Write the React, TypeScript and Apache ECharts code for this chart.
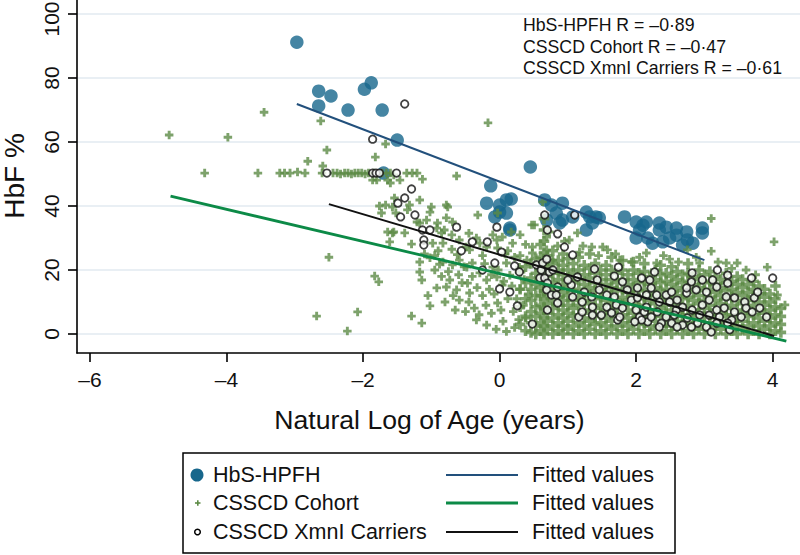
import React, { useEffect, useRef } from "react";
import * as echarts from "echarts";

const FONT = "'Liberation Sans', Arial, Helvetica, sans-serif";

const xTicks = [-6, -4, -2, 0, 2, 4];
const yTicks = [0, 20, 40, 60, 80, 100];
const X_MIN = -6.19;
const X_MAX = 4.4;
const Y_MIN = -5.94;
const Y_MAX = 104.4;

const xTitle = "Natural Log of Age (years)";
const yTitle = "HbF %";
const rLines = ["HbS-HPFH R = –0·89", "CSSCD Cohort R = –0·47", "CSSCD XmnI Carriers R = –0·61"];
const legendLeft = ["HbS-HPFH", "CSSCD Cohort", "CSSCD XmnI Carriers"];
const legendRight = ["Fitted values", "Fitted values", "Fitted values"];

const hbsHpfh: number[][] = [
  [-2.97, 91.2], [-2.65, 75.9], [-2.65, 71.3], [-2.47, 74.4], [-2.22, 70.0], [-1.98, 76.5],
  [-1.88, 78.5], [-1.72, 70.0], [-1.5, 60.6], [-1.7, 50.3], [-0.13, 46.3], [0.45, 52.2],
  [-0.19, 40.9], [0.0, 40.3], [0.1, 41.9], [0.17, 42.2], [0.0, 38.1], [0.1, 37.8], [-0.07, 36.6], [0.15, 32.5], [0.15, 33.1],
  [0.66, 41.9], [0.76, 40.3], [0.92, 40.9], [0.83, 37.8], [0.69, 35.6], [0.92, 35.6], [1.07, 36.6],
  [1.27, 38.1], [1.32, 36.6], [1.36, 34.7], [1.46, 36.3], [1.27, 32.5], [0.88, 34.7], [1.41, 36.6],
  [1.83, 36.6], [2.0, 35.0], [2.15, 35.0], [2.34, 34.7], [2.05, 32.5], [2.0, 30.0], [2.17, 30.0],
  [2.34, 32.5], [2.44, 33.4], [2.59, 33.1], [2.49, 30.0], [2.59, 30.9], [2.74, 31.9], [2.75, 29.4],
  [2.83, 28.4], [2.68, 27.8], [2.97, 33.1], [2.97, 31.6], [2.24, 28.4], [2.39, 28.8], [2.1, 34.0],
];

const cohortSparse: number[][] = [
  [-4.84, 62.2], [-3.98, 61.5], [-3.45, 69.3], [-4.32, 50.3], [-3.54, 50.3], [-3.22, 50.3], [-3.15, 50.3],
  [-3.07, 50.3], [-2.96, 50.6], [-2.85, 50.3], [-2.62, 66.6], [-2.81, 54.0], [-2.53, 57.5], [-2.59, 52.5], [-2.6, 50.3],
  [-2.44, 50.3], [-2.38, 50.3], [-2.33, 50.0], [-2.27, 50.3], [-2.22, 50.3], [-2.17, 50.0], [-2.12, 50.3],
  [-2.07, 50.3], [-2.02, 50.3], [-1.97, 50.0], [-1.92, 50.3], [-1.84, 50.3], [-1.72, 50.3], [-1.66, 50.3],
  [-1.6, 50.3], [-1.55, 49.7], [-1.36, 50.3], [-1.28, 50.3], [-1.21, 50.3],
  [-1.67, 59.4], [-1.82, 55.3], [-1.8, 48.1], [-1.64, 48.1], [-1.86, 48.1], [-1.6, 47.2], [-1.46, 48.1],
  [-1.13, 48.4], [-0.63, 49.4], [-0.17, 66.0],
  [-2.5, 24.0], [-2.68, 5.6], [-2.08, 6.9], [-2.23, 0.9], [-1.83, 18.1], [-1.77, 16.3],
  [-1.76, 40.0], [-1.67, 40.3], [-1.73, 37.8], [-1.64, 31.9], [-1.55, 31.9], [-1.61, 28.8], [-1.54, 42.5],
  [-1.52, 37.8], [-1.35, 38.8], [-1.17, 41.9], [-1.0, 39.7], [-0.78, 40.3], [-0.32, 37.2], [-1.21, 35.0],
  [-1.07, 35.6], [-0.92, 33.1], [-0.81, 32.5], [-0.69, 35.0], [-1.29, 28.1], [-0.98, 28.4], [-0.83, 28.4],
  [-0.59, 29.4], [-0.49, 27.2], [-0.29, 28.4], [-0.04, 29.4], [0.19, 28.4],
  [-1.29, 5.6], [-1.14, 3.4], [-1.02, 8.8], [-1.17, 19.4], [-1.14, 16.9], [-0.95, 20.0], [-0.92, 14.4],
  [-0.78, 14.7], [-0.73, 16.9], [-0.63, 13.8], [-0.59, 10.6], [-0.47, 15.9], [-0.44, 12.8], [-0.37, 8.1],
  [-0.19, 2.8], [-0.34, 4.4], [-0.03, 9.7], [-1.57, 31.6], [-1.39, 31.6], [-1.57, 39.7], [-1.32, 40.3],
  [-1.02, 38.1], [-1.17, 34.7], [-0.91, 34.7], [-0.76, 39.7], [-0.78, 36.3], [-0.85, 31.6], [-0.44, 26.3],
  [-0.34, 30.0], [-0.19, 27.2], [-0.03, 26.9], [0.04, 30.3], [0.47, 34.1], [0.48, 27.2], [-1.17, 22.5],
  [-1.02, 23.8], [-0.83, 22.5], [-0.69, 21.6], [-0.59, 23.1], [-0.48, 20.9], [-0.4, 22.2], [-0.29, 19.1],
  [-0.19, 16.9], [-0.1, 20.9], [-0.04, 17.8], [0.04, 15.3], [0.15, 18.4], [0.1, 22.2], [0.29, 20.9],
  [0.4, 23.1], [0.48, 25.3], [0.69, 30.3], [0.69, 26.3], [0.78, 23.1],
  [0.63, 41.3], [0.51, 34.1], [0.73, 31.9], [1.02, 29.4], [1.14, 31.6], [3.1, 36.1], [-0.03, 37.8], [0.17, 31.9],
  [1.17, 25.6], [1.35, 27.2], [1.51, 27.2], [1.58, 26.3], [1.93, 22.5], [2.15, 25.3], [2.49, 23.4],
  [2.75, 26.3], [3.1, 25.9], [3.48, 22.2], [3.92, 20.9], [4.02, 28.8], [4.07, 12.2], [4.18, 9.1],
  [3.61, 20.0], [3.32, 22.2], [2.93, 22.2], [2.3, 22.2], [1.76, 23.1],
  [-0.25, 12.0], [-0.12, 6.5], [0.05, 4.0], [0.12, 11.0], [0.2, 7.0], [0.3, 14.0], [0.22, 2.0], [-0.5, 7.0],
  [-0.15, 14.0], [0.35, 9.0], [-0.6, 18.5], [-0.85, 18.0], [-0.4, 18.0], [0.08, 25.0], [0.3, 24.5],
  [-0.9, 26.0], [-0.7, 26.5], [-0.25, 24.5], [-1.05, 12.0], [-0.8, 10.0], [-0.65, 7.5], [0.28, 4.5],
  [0.1, 0.8], [-0.05, 1.5],
  [-1.1, 25.0], [-0.95, 24.5], [-0.75, 19.5], [-0.55, 16.0], [-0.45, 10.0], [-0.3, 6.0], [-0.2, 9.0],
  [-0.08, 12.5], [0.02, 7.5], [0.18, 15.0], [0.25, 11.0], [0.38, 5.0], [0.42, 12.5], [0.36, 17.0],
  [0.22, 24.0], [-0.12, 18.5], [-0.33, 14.5], [-0.52, 21.0], [-0.68, 12.0], [-0.88, 21.8], [-0.02, 20.0],
  [0.12, 26.0], [0.06, 16.5], [-0.22, 22.0], [-0.62, 24.8], [-0.1, 31.0], [0.3, 31.0], [0.38, 28.0],
  [-0.45, 31.5], [-0.7, 31.0],
  [1.22, 27.5], [1.45, 24.5], [1.7, 25.0], [2.05, 24.0], [2.4, 24.5], [2.62, 22.5], [2.88, 24.0],
  [3.2, 22.5], [3.4, 20.5], [3.75, 18.5], [0.95, 29.0], [0.85, 27.5],
];

// dense body of the cohort cloud, read column by column: [x, y values]
const cohortDense: [number, number[]][] = [
  [0.3, [3, 8.5, 14, 19.5]],
  [0.38, [1, 5.5, 11, 16, 21]],
  [0.46, [0.5, 3.5, 7, 10.5, 14, 17.5, 22]],
  [0.53, [0, 2.5, 5.5, 8.5, 12, 15.5, 19, 23.5]],
  [0.6, [1, 3.5, 6.5, 9, 12, 14.5, 17.5, 20, 24, 28]],
  [0.65, [0, 2.5, 5, 8, 11, 13.5, 16, 19, 22, 25.5, 29, 32.5, 36]],
  [0.7, [1.5, 4, 6.5, 9.5, 12.5, 15, 18, 21, 24.5]],
  [0.78, [0, 2.5, 5, 8, 10.5, 13, 16, 19, 22, 26]],
  [0.86, [1, 3.5, 6, 9, 11.5, 14, 17, 20, 23]],
  [0.93, [0, 2.5, 5, 7.5, 10.5, 13, 15.5, 18.5, 21.5, 25]],
  [1.0, [1.5, 4, 6.5, 9, 12, 14.5, 17, 20, 23.5]],
  [1.08, [0, 2.5, 5.5, 8, 10.5, 13.5, 16, 19, 22]],
  [1.16, [1, 3.5, 6, 9, 11.5, 14, 17, 20, 24]],
  [1.24, [0, 2.5, 5, 7.5, 10.5, 13, 15.5, 18.5, 21.5]],
  [1.32, [1.5, 4, 6.5, 9.5, 12, 14.5, 17.5, 20.5, 25]],
  [1.4, [0, 3, 5.5, 8, 11, 13.5, 16, 19, 22]],
  [1.48, [1, 3.5, 6, 9, 11.5, 14, 17, 20]],
  [1.56, [0, 2.5, 5, 7.5, 10.5, 13, 15.5, 18.5, 21.5]],
  [1.64, [1.5, 4, 6.5, 9.5, 12, 14.5, 17, 20, 24]],
  [1.72, [0, 2.5, 5.5, 8, 10.5, 13.5, 16, 19]],
  [1.8, [1, 3.5, 6, 9, 11.5, 14, 17, 20, 23]],
  [1.88, [0, 2.5, 5, 7.5, 10.5, 13, 15.5, 18.5]],
  [1.96, [1.5, 4, 6.5, 9.5, 12, 14.5, 17, 20, 22.5]],
  [2.04, [0, 3, 5.5, 8, 11, 13.5, 16, 19]],
  [2.12, [1, 3.5, 6, 9, 11.5, 14, 16.5, 19.5, 22]],
  [2.2, [0, 2.5, 5, 7.5, 10.5, 13, 15.5, 18]],
  [2.28, [1.5, 4, 6.5, 9.5, 12, 14.5, 17, 20]],
  [2.36, [0, 2.5, 5.5, 8, 10.5, 13.5, 16, 18.5, 21.5]],
  [2.44, [1, 3.5, 6, 9, 11.5, 14, 16.5, 19]],
  [2.52, [0, 2.5, 5, 7.5, 10.5, 13, 15.5, 18, 21]],
  [2.6, [1.5, 4, 6.5, 9.5, 12, 14.5, 17, 19.5]],
  [2.68, [0, 3, 5.5, 8, 11, 13.5, 16, 18.5]],
  [2.76, [1, 3.5, 6, 9, 11.5, 14, 16.5, 19, 22]],
  [2.84, [0, 2.5, 5, 7.5, 10.5, 13, 15.5, 18]],
  [2.92, [1.5, 4, 6.5, 9.5, 12, 14.5, 17, 20]],
  [3.0, [0, 2.5, 5.5, 8, 10.5, 13.5, 16, 18.5]],
  [3.08, [1, 3.5, 6, 9, 11.5, 14, 16.5, 19.5]],
  [3.16, [0, 2.5, 5, 7.5, 10.5, 13, 15.5, 18]],
  [3.24, [1.5, 4, 6.5, 9.5, 12, 14.5, 17]],
  [3.32, [0, 3, 5.5, 8, 11, 13.5, 16, 19]],
  [3.4, [1, 3.5, 6, 9, 11.5, 14, 16.5]],
  [3.48, [0, 2.5, 5, 7.5, 10.5, 13, 15.5, 18]],
  [3.56, [1.5, 4, 6.5, 9.5, 12, 14.5, 17]],
  [3.64, [0, 2.5, 5.5, 8, 10.5, 13, 15.5]],
  [3.72, [1, 3.5, 6, 9, 11.5, 14, 16.5]],
  [3.8, [0, 2.5, 5, 7.5, 10, 12.5, 15]],
  [3.88, [1.5, 4, 6.5, 9, 11.5, 14]],
  [3.96, [0, 2.5, 5, 7.5, 10, 12.5]],
  [4.04, [1, 3.5, 6, 8.5, 11, 15]],
  [4.12, [0.5, 3, 5.5, 8]],
];

const xmnCarriers: number[][] = [
  [-1.39, 71.9], [-1.86, 60.9], [-2.53, 50.3], [-1.86, 50.3], [-1.81, 50.3], [-1.76, 50.3], [-1.51, 50.3],
  [-1.29, 45.3], [-1.39, 42.5], [-1.49, 40.9], [-1.45, 36.6], [-1.24, 37.2], [-1.13, 32.5], [-1.02, 32.5],
  [-1.11, 29.4], [-1.11, 27.8], [-0.63, 33.4], [-0.4, 28.8], [-0.18, 28.8], [-0.04, 33.4], [-0.56, 26.0],
  [0.03, 25.6], [-0.07, 22.2], [-0.25, 20.0], [0.22, 21.3], [0.29, 19.4], [0.0, 14.1], [0.15, 13.1],
  [0.26, 8.8], [0.48, 3.1], [0.54, 21.6], [0.63, 22.2], [0.69, 23.4], [0.61, 20.0], [0.59, 17.5],
  [0.66, 17.5], [0.73, 19.4], [0.78, 20.0], [0.7, 15.9], [0.69, 13.8], [0.76, 12.2], [0.83, 12.2],
  [0.85, 14.7], [0.85, 9.7], [0.7, 7.5], [1.07, 11.6], [1.05, 15.3], [1.0, 16.9], [1.07, 24.7],
  [0.95, 27.2], [0.85, 31.3], [0.7, 32.5], [0.66, 37.2], [1.1, 37.2], [1.14, 17.8], [1.16, 5.3],
  [1.39, 20.3], [1.74, 20.9], [1.68, 18.1], [1.8, 16.3], [2.08, 17.5], [2.2, 16.9], [2.27, 19.4],
  [2.22, 14.4], [1.24, 13.1], [1.43, 16.9], [1.46, 13.8], [1.21, 10.0], [1.35, 11.6], [1.57, 12.2],
  [1.68, 11.6], [1.71, 9.1], [1.8, 8.1], [1.93, 10.6], [2.02, 11.3], [1.57, 8.4], [1.36, 8.4],
  [1.21, 6.9], [1.36, 5.9], [1.49, 5.9], [1.64, 6.6], [1.73, 4.4], [2.0, 7.5], [2.05, 5.3], [2.12, 6.9],
  [2.17, 3.8], [2.22, 5.3], [2.15, 8.4], [2.31, 6.9], [2.34, 10.0], [2.44, 12.2], [2.52, 13.1],
  [2.49, 10.0], [2.6, 10.6], [2.59, 7.5], [2.56, 5.9], [2.44, 5.3], [2.37, 3.4], [2.52, 3.4],
  [2.68, 8.4], [2.74, 12.8], [2.81, 16.3], [2.74, 14.4], [2.82, 19.1], [2.97, 16.9], [3.12, 16.9],
  [3.18, 14.7], [3.19, 20.0], [3.34, 18.4], [3.34, 15.9], [2.88, 13.8], [3.03, 13.1], [3.32, 11.6],
  [3.44, 11.3], [3.59, 10.0], [3.73, 11.3], [3.78, 13.1], [3.69, 17.5], [4.0, 17.5], [3.91, 5.3],
  [3.61, 8.1], [3.7, 6.9], [3.54, 5.3], [3.4, 4.4], [3.29, 8.1], [3.18, 7.5], [3.07, 10.6], [2.97, 9.1],
  [2.82, 7.5], [2.93, 5.9], [3.07, 5.9], [3.22, 5.3], [3.34, 3.4], [3.18, 3.4], [3.03, 2.2], [2.9, 3.4],
  [2.75, 5.0], [2.68, 2.8], [3.37, 1.3], [3.1, 0.6], [3.44, 6.9], [1.87, 13.8], [2.02, 14.4],
  [2.15, 12.2], [2.3, 12.2], [2.34, 2.2], [2.08, 4.4], [1.98, 3.8], [1.76, 5.3], [2.81, 2.2], [2.6, 2.2],
  [3.81, 8.1],
];

const fitHbS = [[-2.97, 71.9], [3.0, 23.1]];
const fitCohort = [[-4.82, 43.1], [4.2, -2.2]];
const fitXmn = [[-2.5, 40.6], [4.02, -0.6]];

const BLUE = "#17678c";
const BLUE_LINE = "#22507c";
const GREEN = "#5d8b46";
const GREEN_LINE = "#0c8a47";
const BLACK = "#111111";
const PLUS = "path://M3.3,0H6.7V3.3H10V6.7H6.7V10H3.3V6.7H0V3.3H3.3Z";

const fmt = (v: number) => (v < 0 ? "–" + Math.abs(v) : String(v));

export default function App() {
  const ref = useRef<HTMLDivElement>(null);
  useEffect(() => {
    if (!ref.current) return;
    const chart = echarts.init(ref.current, undefined, { renderer: "svg" });
    const cohortBody: number[][] = [];
    cohortDense.forEach(([x, ys]) => ys.forEach((y) => cohortBody.push([x, y])));

    const legendRows = [475, 503, 532];
    const legendGraphics: any[] = [
      { type: "rect", shape: { x: 183, y: 453, width: 492, height: 100 }, style: { fill: "none", stroke: "#000", lineWidth: 1.5 } },
      { type: "circle", shape: { cx: 197, cy: legendRows[0], r: 6.5 }, style: { fill: BLUE } },
      { type: "rect", shape: { x: 195, y: legendRows[1] - 0.8, width: 5.5, height: 1.6 }, style: { fill: GREEN } },
      { type: "rect", shape: { x: 197, y: legendRows[1] - 2.75, width: 1.6, height: 5.5 }, style: { fill: GREEN } },
      { type: "circle", shape: { cx: 197.5, cy: legendRows[2], r: 2.8 }, style: { fill: "#fff", stroke: "#000", lineWidth: 1.5 } },
      { type: "line", shape: { x1: 446, y1: legendRows[0], x2: 518, y2: legendRows[0] }, style: { stroke: BLUE_LINE, lineWidth: 2 } },
      { type: "line", shape: { x1: 446, y1: legendRows[1], x2: 518, y2: legendRows[1] }, style: { stroke: GREEN_LINE, lineWidth: 2.8 } },
      { type: "line", shape: { x1: 446, y1: legendRows[2], x2: 518, y2: legendRows[2] }, style: { stroke: BLACK, lineWidth: 2 } },
    ];
    legendLeft.forEach((t, i) =>
      legendGraphics.push({ type: "text", x: 213, y: legendRows[i], style: { text: t, fontSize: 21.5, fontFamily: FONT, fill: "#111", verticalAlign: "middle" } })
    );
    legendRight.forEach((t, i) =>
      legendGraphics.push({ type: "text", x: 532, y: legendRows[i], style: { text: t, fontSize: 21.5, fontFamily: FONT, fill: "#111", verticalAlign: "middle" } })
    );
    const rGraphics = rLines.map((t, i) => ({
      type: "text", x: 523, y: 25 + i * 21.5,
      style: { text: t, fontSize: 17.7, fontFamily: FONT, fill: "#111", verticalAlign: "middle" },
    }));
    const baseGraphics: any[] = [
      { type: "text", x: 14, y: 176, rotation: Math.PI / 2, style: { text: yTitle, fontSize: 28, fontFamily: FONT, fill: "#111", align: "center", verticalAlign: "middle" } },
      { type: "text", x: 429.5, y: 420, style: { text: xTitle, fontSize: 26.6, fontFamily: FONT, fill: "#111", align: "center", verticalAlign: "middle" } },
      ...rGraphics,
      ...legendGraphics,
    ];

    chart.setOption({
      animation: false,
      backgroundColor: "#fff",
      grid: { left: 77, right: 0, top: 0, bottom: 202, containLabel: false },
      xAxis: {
        type: "value", min: X_MIN, max: X_MAX,
        axisLine: { show: true, onZero: false, lineStyle: { color: "#000", width: 1.6 } },
        axisTick: { show: true, customValues: xTicks, length: 9, lineStyle: { color: "#000", width: 1.6 } },
        axisLabel: { customValues: xTicks, formatter: fmt, fontSize: 21, fontFamily: FONT, color: "#111", margin: 16 },
        splitLine: { show: false },
      },
      yAxis: {
        type: "value", min: Y_MIN, max: Y_MAX,
        axisLine: { show: true, onZero: false, lineStyle: { color: "#000", width: 1.6 } },
        axisTick: { show: true, customValues: yTicks, length: 9, lineStyle: { color: "#000", width: 1.6 } },
        axisLabel: { show: false },
        splitLine: { show: true, lineStyle: { color: "#e2eaf0", width: 1.6 } },
      },
      graphic: baseGraphics,
      series: [
        { type: "scatter", data: hbsHpfh, symbol: "circle", symbolSize: 13.5, itemStyle: { color: BLUE }, progressive: 0, silent: true },
        { type: "scatter", data: cohortBody, symbol: PLUS, symbolSize: 10.5, itemStyle: { color: GREEN }, progressive: 0, large: false, silent: true },
        { type: "scatter", data: cohortSparse, symbol: PLUS, symbolSize: 8.5, itemStyle: { color: GREEN }, progressive: 0, large: false, silent: true },
        { type: "scatter", data: xmnCarriers, symbol: "circle", symbolSize: 7.5, itemStyle: { color: "#fff", borderColor: BLACK, borderWidth: 1.8 }, progressive: 0, silent: true },
        { type: "line", data: fitHbS, showSymbol: false, lineStyle: { color: BLUE_LINE, width: 2 }, silent: true },
        { type: "line", data: fitCohort, showSymbol: false, lineStyle: { color: GREEN_LINE, width: 2.8 }, silent: true },
        { type: "line", data: fitXmn, showSymbol: false, lineStyle: { color: BLACK, width: 2 }, silent: true },
      ],
    });

    // rotated y tick labels, placed through the chart's own y scale (kept inside the page)
    const yLabelGraphics = yTicks.map((v) => {
      const p = chart.convertToPixel({ xAxisIndex: 0, yAxisIndex: 0 }, [X_MIN, v]) as number[];
      const half = (fmt(v).length * 21 * 0.556) / 2;
      return {
        type: "text", x: p[0] - 25.5, y: Math.max(p[1], half + 1.5), rotation: Math.PI / 2,
        style: { text: fmt(v), fontSize: 21, fontFamily: FONT, fill: "#111", align: "center", verticalAlign: "middle" },
      };
    });
    chart.setOption({ graphic: [...baseGraphics, ...yLabelGraphics] });

    return () => chart.dispose();
  }, []);
  return <div ref={ref} style={{ position: "absolute", left: 0, top: 0, width: 800, height: 555 }} />;
}
